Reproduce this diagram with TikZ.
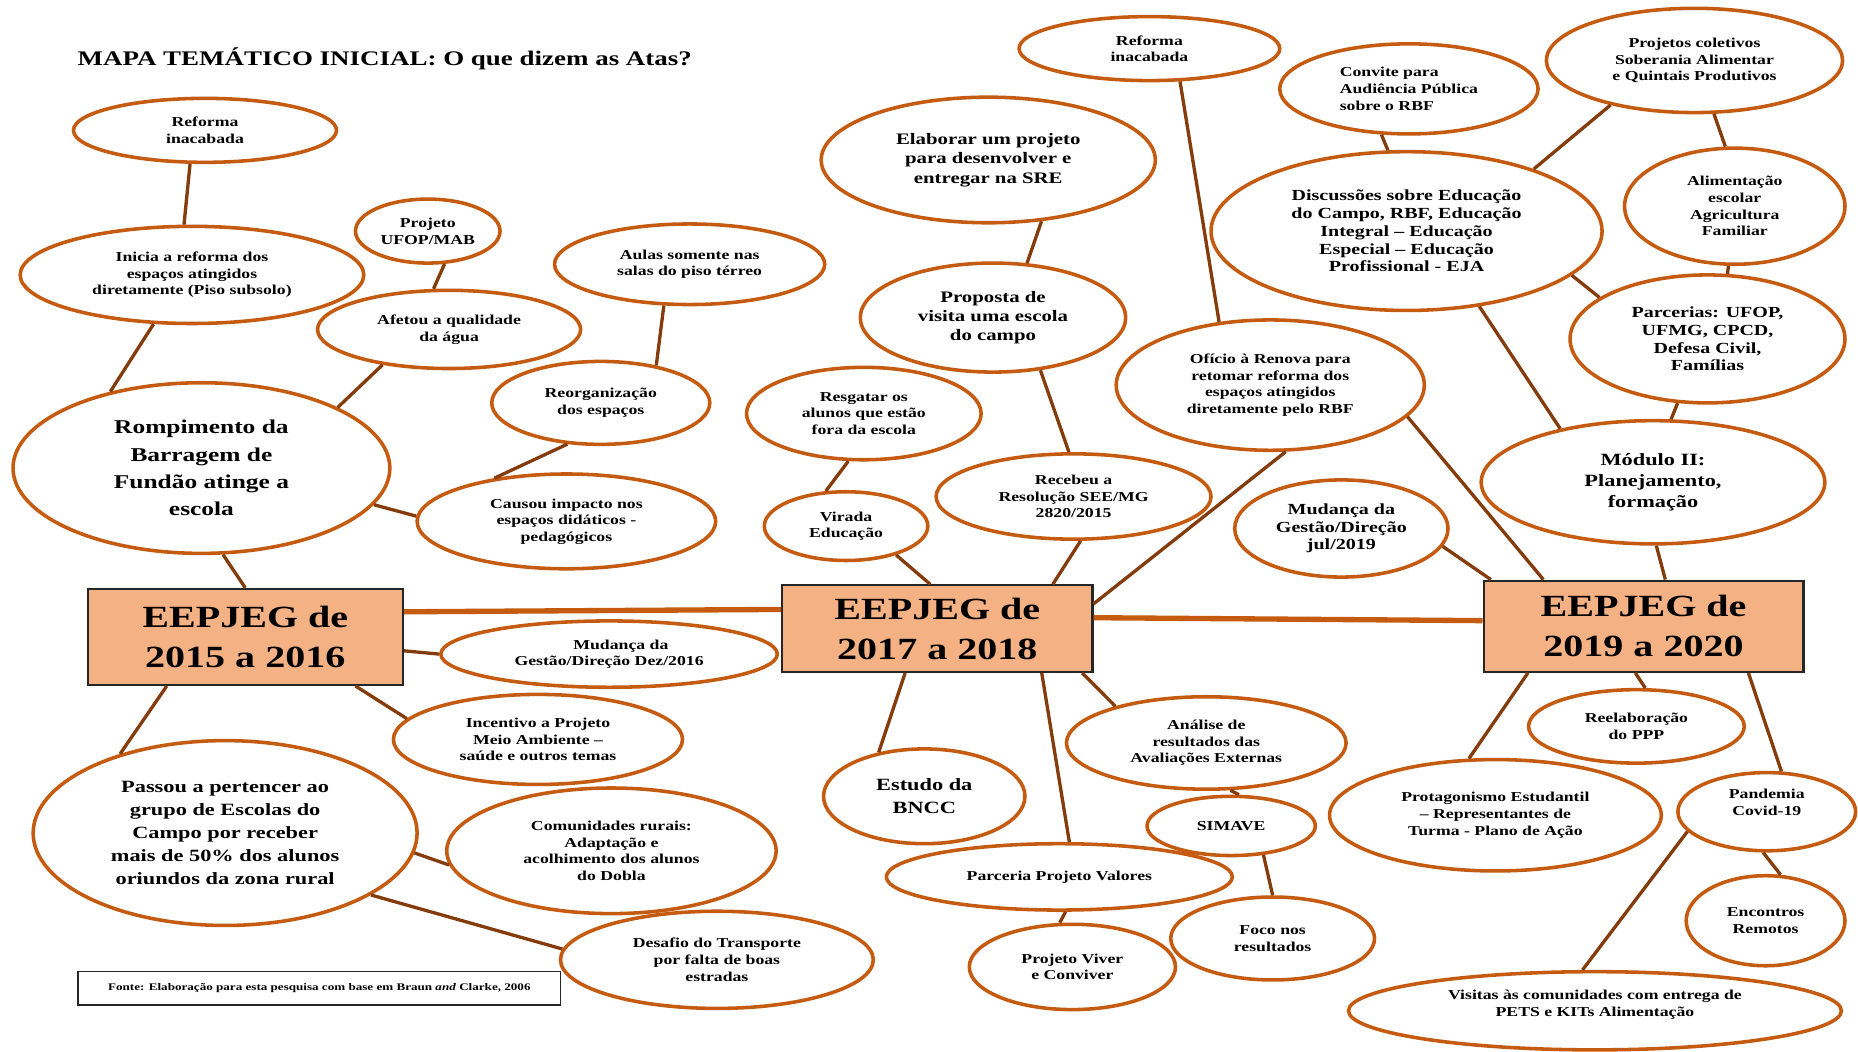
\documentclass[tikz,border=0pt]{standalone}
\usepackage{fontspec}
\setmainfont{Liberation Serif}[FakeStretch=1.3]
\usetikzlibrary{shapes.geometric}
\definecolor{bubedge}{HTML}{C55A11}
\definecolor{linkbrown}{HTML}{843C0C}
\definecolor{boxfill}{HTML}{F4B183}
\definecolor{boxedge}{HTML}{262626}
\newcommand\txtsize[2]{\fontsize{#1}{#2}\selectfont\bfseries}
\tikzset{
  bub/.style={ellipse, draw=bubedge, line width=3pt, fill=white, inner sep=0pt,
    align=center, font=\txtsize{11.5}{14}},
  sz/.style 2 args={minimum width=#1pt, minimum height=#2pt},
  yearbox/.style={rectangle, draw=boxedge, line width=1.8pt, fill=boxfill,
    inner sep=0pt, align=center, font=\txtsize{26}{34}},
  link/.style={draw=linkbrown, line width=2.8pt},
  bridge/.style={draw=bubedge, line width=4.5pt}
}

\begin{document}
\begin{tikzpicture}[x=1pt, y=-1pt]
  \useasboundingbox (0,0) rectangle (1568,887);
  \node[anchor=west, font=\txtsize{17.5}{20}] (titulo) at (62,50) {MAPA TEMÁTICO INICIAL: O que dizem as Atas?};

  % 2015 - 2016
  \node[bub, sz={222}{54}] (refA) at (173,110) {Reforma\\inacabada};
  \node[bub, sz={290}{82}] (inicia) at (162,232) {Inicia a reforma dos\\espaços atingidos\\diretamente (Piso subsolo)};
  \node[bub, sz={122}{54}] (ufop) at (361,195) {Projeto\\UFOP/MAB};
  \node[bub, sz={222}{66}] (agua) at (379,278) {Afetou a qualidade\\da água};
  \node[bub, sz={228}{68}] (aulas) at (582,223) {Aulas somente nas\\salas do piso térreo};
  \node[bub, sz={184}{70}] (reorg) at (507,340) {Reorganização\\dos espaços};
  \node[bub, sz={318}{144}, font=\txtsize{16.5}{23}] (rompe) at (170,395) {Rompimento da\\Barragem de\\Fundão atinge a\\escola};
  \node[bub, sz={252}{80}] (impacto) at (478,440) {Causou impacto nos\\espaços didáticos -\\pedagógicos};
  \node[yearbox, minimum width=266pt, minimum height=81pt] (anoA) at (207,537.5) {EEPJEG de\\2015 a 2016};
  \node[bub, sz={284}{56}] (gestaoA) at (514,552) {\hspace*{20pt}Mudança da\\Gestão/Direção Dez/2016};
  \node[bub, sz={244}{76}] (meio) at (454,624) {Incentivo a Projeto\\Meio Ambiente –\\saúde e outros temas};
  \node[bub, sz={324}{156}, font=\txtsize{14.5}{19.5}] (campo) at (190,703) {Passou a pertencer ao\\grupo de Escolas do\\Campo por receber\\mais de 50\% dos alunos\\oriundos da zona rural};
  \node[bub, sz={278}{106}] (rurais) at (516,718) {Comunidades rurais:\\Adaptação e\\acolhimento dos alunos\\do Dobla};
  \node[bub, sz={264}{82}] (transp) at (605,810) {Desafio do Transporte\\por falta de boas\\estradas};
  \node[draw=boxedge, line width=1.3pt, minimum width=407pt, minimum height=28pt,
    font=\txtsize{8.5}{10}] (fonte) at (269.5,834) {Fonte: Elaboração para esta pesquisa com base em Braun \textit{and} Clarke, 2006};

  % 2017 - 2018
  \node[bub, sz={282}{106}, font=\txtsize{13.5}{16.5}] (projeto) at (834,135) {Elaborar um projeto\\para desenvolver e\\entregar na SRE};
  \node[bub, sz={224}{92}, font=\txtsize{13.5}{16}] (visita) at (838,268) {Proposta de\\visita uma escola\\do campo};
  \node[bub, sz={198}{78}] (resgate) at (729,349) {Resgatar os\\alunos que estão\\fora da escola};
  \node[bub, sz={138}{58}] (virada) at (714,444) {Virada\\Educação};
  \node[bub, sz={232}{72}] (resol) at (906,419) {Recebeu a\\Resolução SEE/MG\\2820/2015};
  \node[bub, sz={220}{54}] (refB) at (970,41) {Reforma\\inacabada};
  \node[bub, sz={260}{110}] (oficio) at (1072,325) {Ofício à Renova para\\retomar reforma dos\\espaços atingidos\\diretamente pelo RBF};
  \node[bub, sz={180}{82}, font=\txtsize{13}{15}] (gestaoB) at (1132,446) {Mudança da\\Gestão/Direção\\jul/2019};
  \node[yearbox, minimum width=262pt, minimum height=73pt] (anoB) at (791,530.5) {EEPJEG de\\2017 a 2018};
  \node[bub, sz={170}{80}, font=\txtsize{14.5}{19}] (bncc) at (780,672) {Estudo da\\BNCC};
  \node[bub, sz={236}{78}] (analise) at (1018,627) {Análise de\\resultados das\\Avaliações Externas};
  \node[bub, sz={142}{50}] (simave) at (1039,697) {SIMAVE};
  \node[bub, sz={292}{56}] (valores) at (894,740) {Parceria Projeto Valores};
  \node[bub, sz={174}{72}] (viver) at (905,816) {Projeto Viver\\e Conviver};
  \node[bub, sz={172}{70}] (foco) at (1074,792) {Foco nos\\resultados};

  % 2019 - 2020
  \node[bub, sz={218}{76}, align=left] (convite) at (1189,75) {Convite para\\Audiência Pública\\sobre o RBF};
  \node[bub, sz={250}{88}] (coletivos) at (1430,51) {Projetos coletivos\\Soberania Alimentar\\e Quintais Produtivos};
  \node[bub, sz={330}{134}, font=\txtsize{13}{15}] (discute) at (1187,195) {Discussões sobre Educação\\do Campo, RBF, Educação\\Integral – Educação\\Especial – Educação\\Profissional - EJA};
  \node[bub, sz={186}{98}] (alimenta) at (1464,174) {Alimentação\\escolar\\Agricultura\\Familiar};
  \node[bub, sz={232}{108}, font=\txtsize{13}{15}] (parcerias) at (1441,286) {Parcerias: UFOP,\\UFMG, CPCD,\\Defesa Civil,\\Famílias};
  \node[bub, sz={290}{104}, font=\txtsize{14.5}{18}] (modulo) at (1395,407) {Módulo II:\\Planejamento,\\formação};
  \node[yearbox, minimum width=270pt, minimum height=77pt] (anoC) at (1387,528.5) {EEPJEG de\\2019 a 2020};
  \node[bub, sz={182}{62}] (ppp) at (1381,613) {Reelaboração\\do PPP};
  \node[bub, sz={280}{94}] (protag) at (1262,688) {Protagonismo Estudantil\\– Representantes de\\Turma - Plano de Ação};
  \node[bub, sz={150}{66}, text depth=16pt] (pandemia) at (1491,685) {Pandemia\\Covid-19};
  \node[bub, sz={134}{76}] (remotos) at (1490,777) {Encontros\\Remotos};
  \node[bub, sz={416}{66}, text depth=13pt] (visitas) at (1346,853) {Visitas às comunidades com entrega de\\PETS e KITs Alimentação};

  \draw[link] (refA.246) -- (inicia.99);
  \draw[link] (inicia.232) -- (rompe.140);
  \draw[link] (ufop.297) -- (agua.111);
  \draw[link] (agua.208) -- (rompe.24);
  \draw[link] (aulas.238) -- (reorg.34);
  \draw[link] (reorg.231) -- (impacto.149);
  \draw[link] (rompe.348) -- (impacto.178);
  \draw[link] (rompe.284) -- (anoA.north);
  \draw[bridge] (anoA.9) -- (anoB.173);
  \draw[link] (anoA.355) -- (gestaoA.180);
  \draw[link] (anoA.336) -- (meio.171);
  \draw[link] (anoA.212) -- (campo.143);
  \draw[link] (campo.354) -- (rurais.185);
  \draw[link] (campo.337) -- (transp.176);

  \draw[link] (projeto.311) -- (visita.58);
  \draw[link] (visita.312) -- (resol.96);
  \draw[link] (resgate.252) -- (virada.120);
  \draw[link] (virada.330) -- (anoB.99);
  \draw[link] (resol.279) -- (anoB.21);
  \draw[link] (oficio.283) -- (anoB.9);
  \draw[link] (refB.313) -- (oficio.129);
  \draw[bridge] (anoB.4) -- (anoC.178);
  \draw[link] (anoB.234) -- (bncc.136);
  \draw[link] (anoB.337) -- (valores.74);
  \draw[link] (anoB.343) -- (analise.158);
  \draw[link] (analise.297) -- (simave.76);
  \draw[link] (simave.318) -- (foco.90);
  \draw[link] (valores.280) -- (viver.106);

  \draw[link] (convite.239) -- (discute.103);
  \draw[link] (coletivos.208) -- (discute.26);
  \draw[link] (coletivos.290) -- (alimenta.99);
  \draw[link] (alimenta.264) -- (parcerias.73);
  \draw[link] (discute.345) -- (parcerias.159);
  \draw[link] (discute.314) -- (modulo.150);
  \draw[link] (parcerias.245) -- (modulo.74);
  \draw[link] (oficio.347) -- (anoC.155);
  \draw[link] (gestaoB.350) -- (anoC.163);
  \draw[link] (modulo.273) -- (anoC.65);
  \draw[link] (anoC.202) -- (protag.115);
  \draw[link] (anoC.260) -- (ppp.77);
  \draw[link] (anoC.336) -- (pandemia.70);
  \draw[link] (pandemia.265) -- (remotos.72);
  \draw[link] (pandemia.194) -- (visitas.107);
\end{tikzpicture}
\end{document}
